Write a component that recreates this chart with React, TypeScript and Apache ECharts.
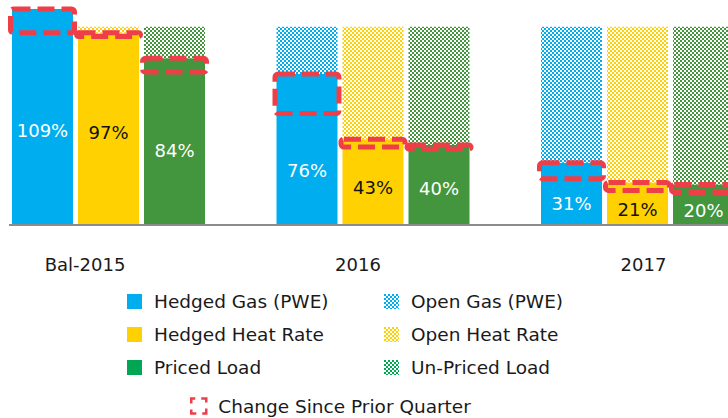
import React, { useEffect, useRef } from 'react';
import * as echarts from 'echarts';

// ---- data ----
const categories = ['Bal-2015', '2016', '2017'];
const hedgedGas = [109, 76, 31];
const openGas = [0, 24, 69];
const hedgedHeatRate = [97, 43, 21];
const openHeatRate = [3, 57, 79];
const pricedLoad = [84, 40, 20];
const unpricedLoad = [16, 60, 80];
// prior quarter levels (bottom edge of the dashed "change" boxes)
const priorGas = [97, 56, 23];
const priorHeatRate = [95, 39, 17];
const priorLoad = [77, 38, 16];

// ---- styles ----
const BLUE = '#00AEEF';
const YELLOW = '#FFD100';
const GREEN = '#43963D';
const LEGEND_GREEN = '#00A651';
const RED = '#EE3E48';
const TEXT = '#1A1A1A';
const FONT = 'DejaVu Sans';
const BAR_W = 61;
const SLOT = 66;
const LABEL_COLORS = ['#FFFFFF', '#111111', '#FFFFFF'];
const AXIS_PAD: Record<string, number[]> = {
  'Bal-2015': [0, 47, 0, 0],
  '2016': [0, 30, 0, 0],
  '2017': [0, 0, 0, 12],
};

function checker(color: string): any {
  const c = document.createElement('canvas');
  c.width = 4;
  c.height = 4;
  const ctx = c.getContext('2d')!;
  ctx.fillStyle = '#FFFFFF';
  ctx.fillRect(0, 0, 4, 4);
  ctx.fillStyle = color;
  ctx.fillRect(0, 0, 2, 2);
  ctx.fillRect(2, 2, 2, 2);
  return { image: c, repeat: 'repeat', imageWidth: 4, imageHeight: 4 };
}

export default function App() {
  const ref = useRef<HTMLDivElement>(null);

  useEffect(() => {
    if (!ref.current) return;
    const chart = echarts.init(ref.current, undefined, { renderer: 'svg' });

    const changeData = categories.flatMap((_, i) => [
      [i, hedgedGas[i], priorGas[i], 0],
      [i, hedgedHeatRate[i], priorHeatRate[i], 1],
      [i, pricedLoad[i], priorLoad[i], 2],
    ]);

    const textStyle = {
      color: TEXT,
      fontFamily: FONT,
      fontSize: 18.5,
      lineHeight: 20,
      padding: [0, 0, 0, 7],
    };

    const rich: any = {};
    Object.keys(AXIS_PAD).forEach((k, idx) => {
      rich['c' + idx] = {
        padding: AXIS_PAD[k],
        fontSize: 18,
        fontFamily: FONT,
        color: TEXT,
        lineHeight: 20,
      };
    });

    const option: any = {
      animation: false,
      backgroundColor: '#FFFFFF',
      grid: {
        left: -23.75,
        right: -41.75,
        top: 7,
        bottom: 194,
        containLabel: false,
        outerBoundsMode: 'none',
      },
      xAxis: {
        type: 'category',
        data: categories,
        axisLine: { show: false },
        axisTick: { show: false },
        axisLabel: {
          margin: 30,
          formatter: (v: string) => `{c${Object.keys(AXIS_PAD).indexOf(v)}|${v}}`,
          rich,
        },
      },
      yAxis: { type: 'value', min: 0, max: 110, show: false, splitLine: { show: false } },
      legend: [
        {
          orient: 'vertical',
          left: 127,
          top: 291.5,
          padding: 0,
          itemWidth: 15,
          itemHeight: 15,
          itemGap: 13,
          icon: 'rect',
          selectedMode: false,
          textStyle,
          data: [
            { name: 'Hedged Gas (PWE)', itemStyle: { color: BLUE } },
            { name: 'Hedged Heat Rate', itemStyle: { color: YELLOW } },
            { name: 'Priced Load', itemStyle: { color: LEGEND_GREEN } },
          ],
        },
        {
          orient: 'vertical',
          left: 384,
          top: 291.5,
          padding: 0,
          itemWidth: 15,
          itemHeight: 15,
          itemGap: 13,
          icon: 'rect',
          selectedMode: false,
          textStyle,
          data: [
            { name: 'Open Gas (PWE)', itemStyle: { color: checker(BLUE) } },
            { name: 'Open Heat Rate', itemStyle: { color: checker(YELLOW) } },
            { name: 'Un-Priced Load', itemStyle: { color: checker(LEGEND_GREEN) } },
          ],
        },
        {
          orient: 'horizontal',
          left: 190,
          top: 396,
          padding: 0,
          itemWidth: 15,
          itemHeight: 15,
          icon: 'rect',
          selectedMode: false,
          textStyle,
          data: [
            {
              name: 'Change Since Prior Quarter',
              itemStyle: {
                color: 'rgba(0,0,0,0)',
                borderColor: RED,
                borderWidth: 2.5,
                borderType: [9, 6],
                borderDashOffset: 4.5,
              },
            },
          ],
        },
      ],
      series: [
        { name: 'Hedged Gas (PWE)', type: 'bar', stack: 'gas', barWidth: BAR_W, barGap: '8.2%', itemStyle: { color: BLUE }, data: hedgedGas },
        { name: 'Open Gas (PWE)', type: 'bar', stack: 'gas', barWidth: BAR_W, barGap: '8.2%', itemStyle: { color: checker(BLUE) }, data: openGas },
        { name: 'Hedged Heat Rate', type: 'bar', stack: 'heat', barWidth: BAR_W, barGap: '8.2%', itemStyle: { color: YELLOW }, data: hedgedHeatRate },
        { name: 'Open Heat Rate', type: 'bar', stack: 'heat', barWidth: BAR_W, barGap: '8.2%', itemStyle: { color: checker(YELLOW) }, data: openHeatRate },
        { name: 'Priced Load', type: 'bar', stack: 'load', barWidth: BAR_W, barGap: '8.2%', itemStyle: { color: GREEN }, data: pricedLoad },
        { name: 'Un-Priced Load', type: 'bar', stack: 'load', barWidth: BAR_W, barGap: '8.2%', itemStyle: { color: checker(GREEN) }, data: unpricedLoad },
        {
          name: 'Change Since Prior Quarter',
          type: 'custom',
          z: 5,
          itemStyle: { color: RED },
          encode: { x: 0, y: [1, 2] },
          data: changeData,
          renderItem: (_p: any, api: any) => {
            const ci = api.value(0);
            const slot = api.value(3);
            const base = api.coord([ci, 0]);
            const top = api.coord([ci, api.value(1)]);
            const bot = api.coord([ci, api.value(2)]);
            const cx = base[0] + (slot - 1) * SLOT;
            return {
              type: 'rect',
              shape: { x: cx - 32, y: top[1], width: 64, height: bot[1] - top[1], r: 3 },
              style: { fill: 'none', stroke: RED, lineWidth: 5, lineDash: [17, 7] },
            };
          },
        },
        {
          name: 'values',
          type: 'custom',
          z: 6,
          encode: { x: 0, y: 2 },
          data: changeData,
          renderItem: (_p: any, api: any) => {
            const ci = api.value(0);
            const slot = api.value(3);
            const base = api.coord([ci, 0]);
            const prior = api.coord([ci, api.value(2)]);
            const cx = base[0] + (slot - 1) * SLOT;
            return {
              type: 'text',
              x: cx,
              y: (base[1] + prior[1]) / 2 + 2,
              style: {
                text: `${api.value(1)}%`,
                fill: LABEL_COLORS[slot],
                font: `18px "${FONT}"`,
                align: 'center',
                verticalAlign: 'middle',
              },
            };
          },
        },
      ],
    };

    chart.setOption(option);
    const y0 = chart.convertToPixel({ yAxisIndex: 0 }, 0) as number;
    chart.setOption({
      graphic: [
        {
          type: 'line',
          z: 10,
          shape: { x1: 9, y1: y0 + 1, x2: 728, y2: y0 + 1 },
          style: { stroke: '#8C8C8C', lineWidth: 2 },
        },
      ],
    });

    return () => chart.dispose();
  }, []);

  return (
    <div
      ref={ref}
      style={{ position: 'fixed', left: 0, top: 0, width: 728, height: 418, background: '#fff' }}
    />
  );
}
